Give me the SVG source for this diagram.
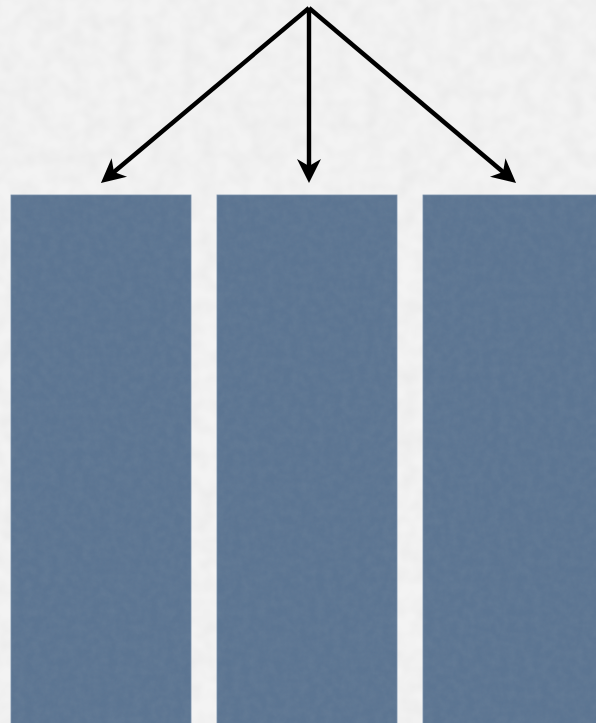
<svg xmlns="http://www.w3.org/2000/svg" width="596" height="723" viewBox="0 0 596 723">
  <defs>
    <style>
      .col { fill: #5c7592; stroke: #7890aa; stroke-width: 0.8; }
      .edge { fill: none; stroke: #000; stroke-width: 4.4; stroke-linecap: butt; }
    </style>
    <marker id="head" markerUnits="userSpaceOnUse" markerWidth="40" markerHeight="40" refX="0" refY="0" orient="auto" overflow="visible">
      <path d="M10,0 L-14,-12 L-7,0 L-14,12 Z" fill="#000"/>
    </marker>
    <!-- faint paper grain -->
    <filter id="grain" x="0" y="0" width="100%" height="100%">
      <feTurbulence type="fractalNoise" baseFrequency="0.06" numOctaves="2" seed="4" result="n"/>
      <feColorMatrix in="n" type="matrix" values="0 0 0 0 0  0 0 0 0 0  0 0 0 0 0  0 0 0 0.05 -0.015"/>
    </filter>
    <!-- fine mottling on the columns -->
    <filter id="mottle" x="0" y="0" width="100%" height="100%">
      <feTurbulence type="fractalNoise" baseFrequency="0.12" numOctaves="3" seed="9" result="n"/>
      <feColorMatrix in="n" type="matrix" values="0 0 0 0 0.2  0 0 0 0 0.27  0 0 0 0 0.36  0 0 0 0.5 -0.12"/>
    </filter>
  </defs>

  <rect width="596" height="723" fill="#f3f3f3"/>
  <rect width="596" height="723" filter="url(#grain)"/>

  <g id="column-left">
    <rect class="col" x="11" y="195" width="180" height="540"/>
  </g>
  <g id="column-middle">
    <rect class="col" x="217" y="195" width="180" height="540"/>
  </g>
  <g id="column-right">
    <rect class="col" x="423" y="195" width="180" height="540"/>
  </g>
  <g opacity="0.7">
    <rect x="11.5" y="195.5" width="179" height="528" filter="url(#mottle)"/>
    <rect x="217.5" y="195.5" width="179" height="528" filter="url(#mottle)"/>
    <rect x="423.5" y="195.5" width="173" height="528" filter="url(#mottle)"/>
  </g>

  <g id="connectors">
    <line class="edge" x1="309" y1="8" x2="108.6" y2="176.5" marker-end="url(#head)"/>
    <line class="edge" x1="309" y1="8" x2="309" y2="173" marker-end="url(#head)"/>
    <line class="edge" x1="309" y1="8" x2="508.4" y2="176.5" marker-end="url(#head)"/>
  </g>
</svg>
